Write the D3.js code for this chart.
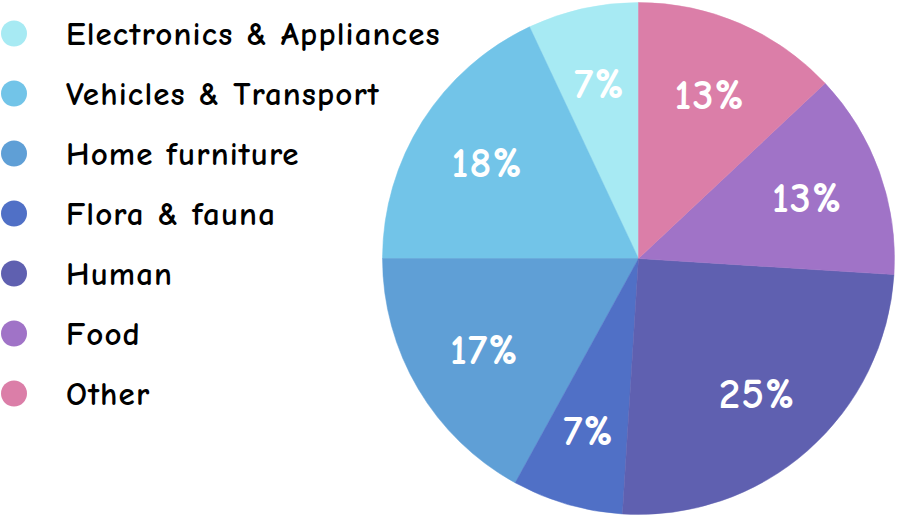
<!DOCTYPE html>
<html>
<head>
<meta charset="utf-8">
<script src="https://cdn.jsdelivr.net/npm/d3@7"></script>
<style>
  html, body { margin: 0; padding: 0; background: #fff; overflow: hidden; }
  svg { display: block; font-family: "Comic Sans MS", "Comic Neue", "Open Sans", sans-serif; }
</style>
</head>
<body>
<script>
// Share of items per category (legend order, drawn counter-clockwise from 12 o'clock)
const categories = ["Electronics & Appliances", "Vehicles & Transport", "Home furniture", "Flora & fauna", "Human", "Food", "Other"];
const shares = [7, 18, 17, 7, 25, 13, 13];
const colors = ["#a7eaf3", "#72c4e8", "#5f9fd6", "#5070c6", "#5f60b0", "#a073c7", "#db7ea8"];

const width = 900;
const height = 519;
const center = { x: 638.5, y: 258.5 };
const radius = 256;

const svg = d3.select("body").append("svg")
  .attr("width", width)
  .attr("height", height)
  .attr("viewBox", [0, 0, width, height]);

const data = categories.map((name, i) => ({ name, value: shares[i], color: colors[i] }));

const color = d3.scaleOrdinal(categories, colors);

// pie goes the other way round: start at top, end a full turn counter-clockwise
const pie = d3.pie()
  .sort(null)
  .value(d => d.value)
  .startAngle(0)
  .endAngle(-2 * Math.PI);

const arc = d3.arc().innerRadius(0).outerRadius(radius);
const labelArc = d3.arc().innerRadius(radius * 0.7).outerRadius(radius * 0.7);

const g = svg.append("g").attr("transform", `translate(${center.x},${center.y})`);

const slices = g.selectAll("g.slice")
  .data(pie(data))
  .join("g")
  .attr("class", "slice");

slices.append("path")
  .attr("d", arc)
  .attr("fill", d => color(d.data.name))
  .attr("stroke", d => color(d.data.name))
  .attr("stroke-width", 0.5);

slices.append("text")
  .attr("transform", d => `translate(${labelArc.centroid(d)})`)
  .attr("text-anchor", "middle")
  .attr("dy", "0.34em")
  .attr("fill", "#fff")
  .attr("font-size", 43)
  .attr("font-weight", "bold")
  .attr("letter-spacing", 1)
  .text(d => `${d.data.value}%`);

// Legend
const legend = svg.append("g").attr("class", "legend");

const y = d3.scalePoint()
  .domain(categories)
  .range([33.5, 393.5]);

const rows = legend.selectAll("g")
  .data(data)
  .join("g")
  .attr("transform", d => `translate(0,${y(d.name)})`);

rows.append("circle")
  .attr("cx", 14)
  .attr("r", 13)
  .attr("fill", d => color(d.name));

rows.append("text")
  .attr("x", 66)
  .attr("dy", "0.36em")
  .attr("font-size", 33)
  .attr("font-weight", "bold")
  .attr("letter-spacing", 1.1)
  .attr("fill", "#000")
  .text(d => d.name);
</script>
</body>
</html>
